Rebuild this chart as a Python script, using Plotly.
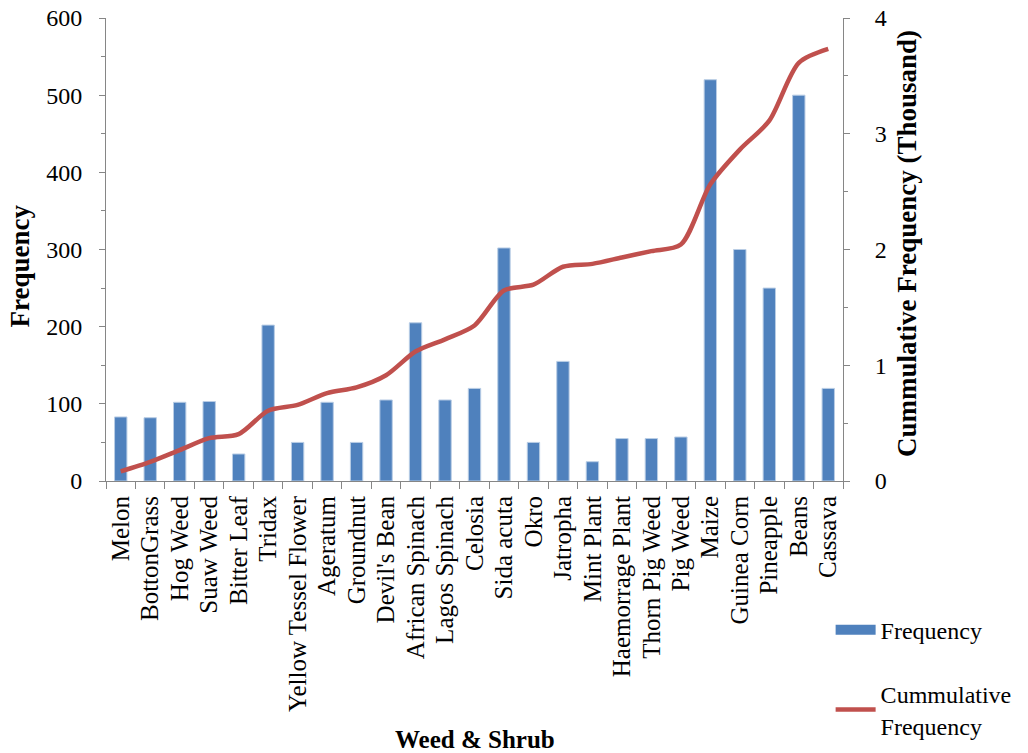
import numpy as np
import plotly.graph_objects as go

categories = ["Melon", "BottonGrass", "Hog Weed", "Suaw Weed", "Bitter Leaf", "Tridax",
              "Yellow Tessel Flower", "Ageratum", "Groundnut", "Devil's Bean",
              "African Spinach", "Lagos Spinach", "Celosia", "Sida acuta", "Okro",
              "Jatropha", "Mint Plant", "Haemorrage Plant", "Thorn Pig Weed", "Pig Weed",
              "Maize", "Guinea Corn", "Pineapple", "Beans", "Cassava"]
frequency = [83, 82, 102, 103, 35, 202, 50, 102, 50, 105, 205, 105, 120, 302, 50,
             155, 25, 55, 55, 57, 520, 300, 250, 500, 120]

# cumulative frequency, in thousands
cumulative = np.cumsum(frequency) / 1000.0

FONT = "Liberation Serif, Times New Roman, serif"
AXIS_GREY = "#868686"
BAR_BLUE = "#4F81BD"
LINE_RED = "#C0504D"

fig = go.Figure()
fig.add_trace(go.Bar(
    x=categories, y=frequency, name="Frequency", showlegend=False,
    marker=dict(color=BAR_BLUE, line=dict(color="#B9CDE5", width=1)),
))
fig.add_trace(go.Scatter(
    x=categories, y=cumulative, name="Cummulative<br>Frequency", yaxis="y2",
    legendgroup="cum", legendrank=2, mode="lines",
    line=dict(color=LINE_RED, width=4.5, shape="spline", smoothing=0.8),
))
# wide rectangular legend swatch for the bar series
fig.add_trace(go.Scatter(
    x=[None], y=[None], name="Frequency", legendgroup="freq", legendrank=1,
    mode="lines", line=dict(color=BAR_BLUE, width=12),
))

fig.update_layout(
    width=1028, height=753,
    margin=dict(l=106, r=185, t=18, b=272, autoexpand=False),
    paper_bgcolor="white", plot_bgcolor="white",
    font=dict(family=FONT, size=24, color="black"),
    bargap=0.58,
    showlegend=True,
    legend=dict(xref="container", yref="container", x=0.808, y=0.193,
                xanchor="left", yanchor="top",
                font=dict(family=FONT, size=24, color="black"),
                tracegroupgap=30, itemwidth=40, bgcolor="rgba(0,0,0,0)"),
    xaxis=dict(
        type="category", tickmode="linear", dtick=1, tick0=0,
        tickangle=-90, showline=True, linecolor=AXIS_GREY, linewidth=1,
        ticks="outside", tickson="boundaries", ticklen=7, tickcolor=AXIS_GREY,
        showgrid=False, automargin=False, ticklabelstandoff=4,
        tickfont=dict(family=FONT, size=25),
    ),
    yaxis=dict(
        range=[0, 600], dtick=100, showline=True, linecolor=AXIS_GREY, linewidth=1,
        ticks="outside", ticklen=6, tickcolor=AXIS_GREY, showgrid=False, zeroline=False,
        minor=dict(dtick=50, ticks="outside", ticklen=4, tickcolor=AXIS_GREY),
        automargin=False, tickfont=dict(family=FONT, size=24), ticklabelstandoff=12,
    ),
    yaxis2=dict(
        range=[0, 4], dtick=1, overlaying="y", side="right", showline=True,
        linecolor=AXIS_GREY, linewidth=1, ticks="outside", ticklen=6, tickcolor=AXIS_GREY,
        showgrid=False, zeroline=False,
        minor=dict(dtick=0.5, ticks="outside", ticklen=4, tickcolor=AXIS_GREY),
        automargin=False, tickfont=dict(family=FONT, size=24), ticklabelstandoff=20,
    ),
    annotations=[
        dict(text="<b>Frequency</b>", xref="paper", yref="paper", x=-0.117, y=0.465,
             textangle=-90, showarrow=False, font=dict(family=FONT, size=27),
             xanchor="center", yanchor="middle"),
        dict(text="<b>Cummulative Frequency (Thousand)</b>", xref="paper", yref="paper",
             x=1.087, y=0.512, textangle=-90, showarrow=False,
             font=dict(family=FONT, size=27), xanchor="center", yanchor="middle"),
        dict(text="<b>Weed &amp; Shrub</b>", xref="paper", yref="paper", x=0.5, y=-0.559,
             showarrow=False, font=dict(family=FONT, size=25),
             xanchor="center", yanchor="middle"),
    ],
)

fig.write_html("out.html")
